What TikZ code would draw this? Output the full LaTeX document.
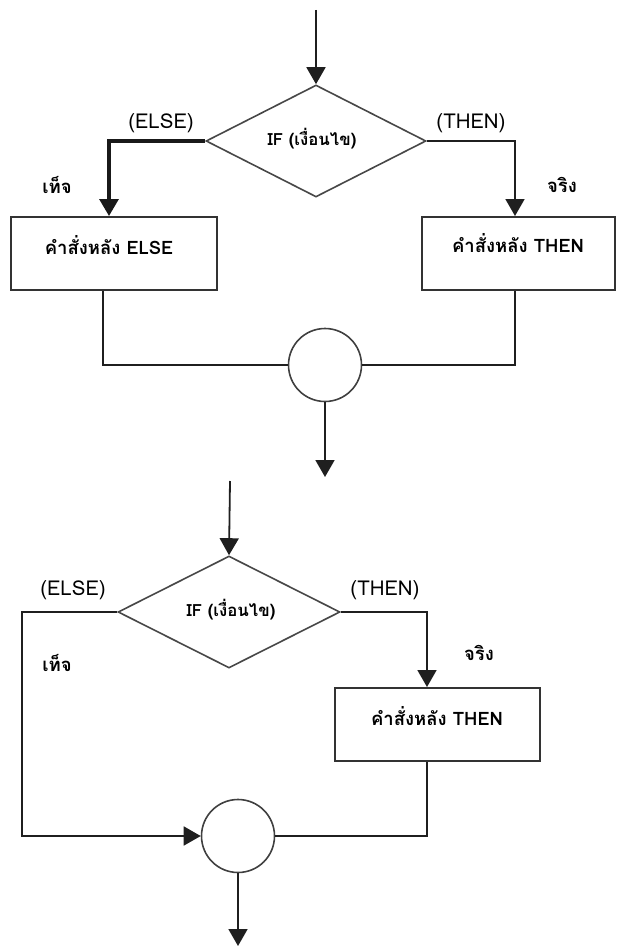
\documentclass[tikz,border=0pt]{standalone}
\usepackage{fontspec}
\newfontfamily\thaifont[Script=Thai]{Loma}
\usetikzlibrary{shapes.geometric,arrows.meta}

\tikzset{
  flow/.style={draw=black!88, line width=1.8pt},
  flowbold/.style={draw=black!90, line width=3.2pt},
  tip/.style={-{Triangle[width=19pt,length=17pt]}},
  decision/.style={diamond, draw=black!72, line width=1.6pt, inner sep=0pt,
    minimum width=#1, minimum height=112pt},
  stmt/.style={rectangle, draw=black!80, line width=2pt, inner sep=0pt,
    minimum height=73pt},
  joint/.style={circle, draw=black!75, line width=1.6pt, inner sep=0pt,
    minimum size=73pt},
  cond/.style={font=\thaifont\bfseries\fontsize{16.8}{19}\selectfont, inner sep=0pt},
  stmttext/.style={font=\thaifont\bfseries\fontsize{18.5}{21}\selectfont, inner sep=0pt},
  branch/.style={font=\thaifont\fontsize{20.5}{23}\selectfont, inner sep=0pt},
  truth/.style={font=\thaifont\bfseries\fontsize{18.5}{21}\selectfont, inner sep=0pt},
}

\begin{document}
\begin{tikzpicture}[x=1pt, y=-1pt]
\useasboundingbox (0,0) rectangle (617,947);

% ---------- IF ... THEN ... ELSE ----------
\coordinate (in1) at (316,10);
\node[decision=220pt] (d1) at (316,141) {};
\node[cond] (d1t) at (312,139) {IF (เงื่อนไข)};

\node[stmt, minimum width=206pt] (else1) at (114,253.5) {};
\node[stmttext] (else1t) at (109,245) {คำสั่งหลัง ELSE};
\node[stmt, minimum width=193pt] (then1) at (518.5,253.5) {};
\node[stmttext] (then1t) at (518,243) {คำสั่งหลัง THEN};

\node[joint] (c1) at (325,365) {};
\coordinate (out1) at (325,477);

\coordinate (e1) at (109,141);
\coordinate (t1) at (515,141);
\coordinate (eb1) at (103,365);
\coordinate (tb1) at (515,365);

\draw[flow, tip] (in1) -- (d1.north);
\draw[flowbold, tip] (d1.west) -- (e1) -- (e1 |- else1.north);
\draw[flow, tip] (d1.east) -- (t1) -- (t1 |- then1.north);
\draw[flow] (eb1 |- else1.south) -- (eb1) -- (c1.west);
\draw[flow] (tb1 |- then1.south) -- (tb1) -- (c1.east);
\draw[flow, tip] (c1.south) -- (out1);

\node[branch] (else1l) at (161,123) {(ELSE)};
\node[branch] (then1l) at (471,123) {(THEN)};
\node[truth] (false1) at (57,185) {เท็จ};
\node[truth] (true1) at (562,185) {จริง};

% ---------- IF ... THEN ----------
\coordinate (in2) at (230,481);
\node[decision=222pt] (d2) at (229,612) {};
\node[cond] (d2t) at (231,610) {IF (เงื่อนไข)};

\node[stmt, minimum width=205pt] (then2) at (437.5,724.5) {};
\node[stmttext] (then2t) at (437,716) {คำสั่งหลัง THEN};

\node[joint] (c2) at (238,836) {};
\coordinate (out2) at (238,946);

\coordinate (e2) at (22,612);
\coordinate (t2) at (427,612);
\coordinate (tb2) at (427,836);

\draw[flow, tip] (in2) -- (d2.north);
\draw[flow, tip] (d2.west) -- (e2) -- (e2 |- c2.west) -- (c2.west);
\draw[flow, tip] (d2.east) -- (t2) -- (t2 |- then2.north);
\draw[flow] (tb2 |- then2.south) -- (tb2) -- (c2.east);
\draw[flow, tip] (c2.south) -- (out2);

\node[branch] (else2l) at (73,590) {(ELSE)};
\node[branch] (then2l) at (385,590) {(THEN)};
\node[truth] (false2) at (57,663) {เท็จ};
\node[truth] (true2) at (479,653) {จริง};
\end{tikzpicture}
\end{document}
